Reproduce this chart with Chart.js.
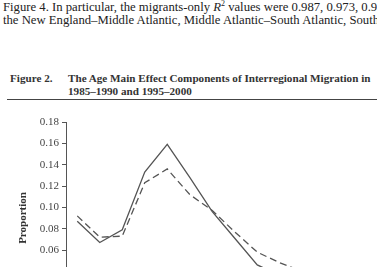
<!DOCTYPE html>
<html>
<head>
<meta charset="utf-8">
<script src="https://cdn.jsdelivr.net/npm/chart.js@4"></script>
<style>
  html, body { margin: 0; padding: 0; background: #fff; width: 377px; height: 267px; overflow: hidden; }
  body { position: relative; font-family: 'Liberation Serif', serif; color: #222; }
  .line { position: absolute; white-space: nowrap; font-size: 12.7px; left: 3px; }
  .cap { position: absolute; white-space: nowrap; font-weight: bold; font-size: 11.15px; color: #333; }
  .rule { position: absolute; left: 7px; right: 0; top: 98.5px; height: 1.5px; background: #444; }
  #wrap { position: absolute; left: 0; top: 0; width: 377px; height: 354px; }
</style>
</head>
<body>
<div class="line" style="top:-1px">Figure 4. In particular, the migrants-only <i>R</i><sup style="font-size:8px">2</sup> values were 0.987, 0.973, 0.9</div>
<div class="line" style="top:13px">the New England–Middle Atlantic, Middle Atlantic–South Atlantic, South</div>
<div class="cap" style="left:10px; top:72px">Figure 2.</div>
<div class="cap" style="left:68px; top:72px">The Age Main Effect Components of Interregional Migration in</div>
<div class="cap" style="left:68px; top:85px">1985–1990 and 1995–2000</div>
<div class="rule"></div>
<div id="wrap"><canvas id="chart"></canvas></div>
<script>
// age groups (only the first ones are visible in the picture)
const ageGroups = ['5–9', '10–14', '15–19', '20–24', '25–29', '30–34', '35–39',
  '40–44', '45–49', '50–54', '55–59', '60–64', '65+'];
const period1 = [0.087, 0.067, 0.079, 0.133, 0.159, 0.128, 0.096, 0.071, 0.046, 0.036, 0.033, 0.032, 0.034];
const period2 = [0.092, 0.072, 0.073, 0.123, 0.136, 0.112, 0.097, 0.077, 0.058, 0.048, 0.040, 0.036, 0.036];
const yTicks = [0, 0.02, 0.04, 0.06, 0.08, 0.10, 0.12, 0.14, 0.16, 0.18];

const ink = '#555';
const serif = "'Liberation Serif', serif";

new Chart(document.getElementById('chart'), {
  type: 'line',
  data: {
    labels: ageGroups,
    datasets: [
      { label: '1985–1990', data: period1, borderColor: ink, borderWidth: 1.3, pointRadius: 0, tension: 0, fill: false },
      { label: '1995–2000', data: period2, borderColor: ink, borderWidth: 1.3, borderDash: [7, 4], pointRadius: 0, tension: 0, fill: false }
    ]
  },
  options: {
    responsive: true,
    maintainAspectRatio: false,
    animation: false,
    layout: { padding: { top: 122, right: 18.5, left: 0, bottom: 0 } },
    plugins: { legend: { display: false }, tooltip: { enabled: false } },
    scales: {
      x: {
        offset: true,
        grid: { drawOnChartArea: false, tickLength: 4, color: ink },
        border: { color: ink },
        ticks: { color: '#333', font: { family: serif, size: 11 } },
        afterFit: s => { s.height = 40; }
      },
      y: {
        min: 0,
        max: 0.18,
        afterBuildTicks: s => { s.ticks = yTicks.map(v => ({ value: v })); },
        grid: { drawOnChartArea: false, tickLength: 4, color: ink },
        border: { color: ink },
        ticks: {
          padding: 3,
          color: '#444',
          font: { family: serif, size: 11 },
          callback: v => Number(v).toFixed(2)
        },
        title: {
          display: true,
          text: 'Proportion',
          color: '#333',
          font: { family: serif, size: 11, weight: 'bold' },
          padding: { top: 17, bottom: 0 }
        },
        afterFit: s => { s.width = 66; }
      }
    }
  }
});
</script>
</body>
</html>
